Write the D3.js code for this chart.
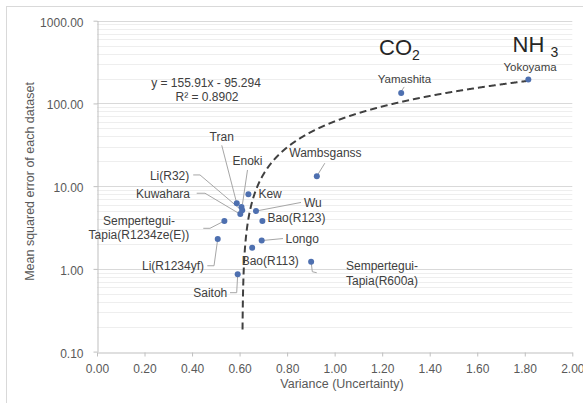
<!DOCTYPE html>
<html>
<head>
<meta charset="utf-8">
<script src="https://cdn.jsdelivr.net/npm/d3@7"></script>
<style>
  html, body { margin: 0; padding: 0; background: #fff; }
  svg { display: block; font-family: "Liberation Sans", Arial, sans-serif; }
</style>
</head>
<body>
<svg id="chart" width="583" height="403"></svg>
<script>
// Datasets: variance (uncertainty) vs. mean squared error
const names = [
  "Yokoyama", "Yamashita", "Wambsganss", "Kew", "Tran", "Enoki", "Li(R32)", "Kuwahara",
  "Wu", "Bao(R123)", "Sempertegui-Tapia(R1234ze(E))", "Li(R1234yf)", "Longo",
  "Bao(R113)", "Saitoh", "Sempertegui-Tapia(R600a)"
];
const variance = [1.815, 1.28, 0.925, 0.637, 0.588, 0.608, 0.611, 0.603,
                  0.669, 0.696, 0.536, 0.508, 0.693, 0.653, 0.592, 0.901];
const mse = [195, 134, 13.2, 8.0, 6.2, 5.6, 5.1, 4.6,
             5.0, 3.8, 3.8, 2.3, 2.2, 1.8, 0.86, 1.22];

// Linear trendline fitted to the datasets
const trendSlope = 155.91;
const trendIntercept = -95.294;
const rSquared = 0.8902;

// Axis ticks
const xTicks = [0, 0.2, 0.4, 0.6, 0.8, 1.0, 1.2, 1.4, 1.6, 1.8, 2.0];
const yTicks = [0.1, 1, 10, 100, 1000];

// Label placement (pixel offsets from each point; leader polyline offsets)
const labelLayout = {
  "Yokoyama":   { lines: ["Yokoyama"], anchor: "middle", dx: 1.7, dy: -8.7, size: 11.5 },
  "Yamashita":  { lines: ["Yamashita"], anchor: "middle", dx: 3.3, dy: -10.2, size: 11.5, leader: [[1, -3], [3, -6]] },
  "Wambsganss": { lines: ["Wambsganss"], anchor: "start", dx: -27.5, dy: -18.9, leader: [[0, 0], [8, -13]] },
  "Kew":        { lines: ["Kew"], anchor: "start", dx: 10, dy: 4 },
  "Tran":       { lines: ["Tran"], anchor: "middle", dx: -15, dy: -62.6, leader: [[-15, -58], [0, 0]] },
  "Enoki":      { lines: ["Enoki"], anchor: "middle", dx: 6, dy: -42, leader: [[6, -37], [1, -3]] },
  "Li(R32)":    { lines: ["Li(R32)"], anchor: "end", dx: -52.9, dy: -30.4, leader: [[-49, -35.4], [-42.2, -35.4], [-3, -2]] },
  "Kuwahara":   { lines: ["Kuwahara"], anchor: "end", dx: -50.3, dy: -15.8, leader: [[-43.6, -20.8], [-35.3, -20.8], [-2, -1]] },
  "Wu":         { lines: ["Wu"], anchor: "start", dx: 48, dy: -4.4, leader: [[0, 0], [45, -8.6]] },
  "Bao(R123)":  { lines: ["Bao(R123)"], anchor: "start", dx: 5, dy: 1 },
  "Sempertegui-Tapia(R1234ze(E))": { lines: ["Sempertegui-", "Tapia(R1234ze(E))"], anchor: "middle", dx: -85.4, dy: 3.6,
                  leader: [[-21.1, 7.4], [-14.4, 7.4], [0, 0]] },
  "Li(R1234yf)": { lines: ["Li(R1234yf)"], anchor: "end", dx: -13.7, dy: 31, leader: [[-10.4, 26.8], [-3.7, 26.8], [0, 0]] },
  "Longo":      { lines: ["Longo"], anchor: "start", dx: 23.8, dy: 2.5, leader: [[0, 0], [21.3, -2]] },
  "Bao(R113)":  { lines: ["Bao(R113)"], anchor: "start", dx: -10.5, dy: 17.3 },
  "Saitoh":     { lines: ["Saitoh"], anchor: "end", dx: -10.4, dy: 22.4, leader: [[-7.7, 18.4], [-1, 18.4], [0, 0]] },
  "Sempertegui-Tapia(R600a)": { lines: ["Sempertegui-", "Tapia(R600a)"], anchor: "middle", dx: 70.9, dy: 8.3,
                  leader: [[0, 0], [1.2, 10], [5.6, 11]] }
};

const svg = d3.select("#chart");
const plot = { left: 97, right: 572.3, top: 20.7, bottom: 351.6 };

const x = d3.scaleLinear().domain([0, 2]).range([plot.left, plot.right]);
const y = d3.scaleLog().domain([0.1, 1000]).range([plot.bottom, plot.top]);

// Chart area outline
svg.append("rect")
  .attr("x", 6.5).attr("y", 6.5)
  .attr("width", 600).attr("height", 420)
  .attr("fill", "#fff").attr("stroke", "#d9d9d9").attr("stroke-width", 1);

// Minor and major horizontal gridlines
const minorVals = [];
for (let e = -1; e < 3; e++) {
  for (let m = 2; m <= 9; m++) minorVals.push(m * Math.pow(10, e));
}
svg.append("g").selectAll("line").data(minorVals).join("line")
  .attr("x1", plot.left).attr("x2", plot.right)
  .attr("y1", d => Math.round(y(d)) + 0.5).attr("y2", d => Math.round(y(d)) + 0.5)
  .attr("stroke", "#eeeeee").attr("stroke-width", 1);
svg.append("g").selectAll("line").data(yTicks.slice(1)).join("line")
  .attr("x1", plot.left).attr("x2", plot.right)
  .attr("y1", d => Math.round(y(d)) + 0.5).attr("y2", d => Math.round(y(d)) + 0.5)
  .attr("stroke", "#d9d9d9").attr("stroke-width", 1);

// Axes
const fmt = d3.format(".2f");
const xAxis = svg.append("g")
  .attr("transform", `translate(0,${Math.round(plot.bottom) + 0.5})`)
  .call(d3.axisBottom(x).tickValues(xTicks).tickFormat(fmt).tickSize(4).tickSizeOuter(0).tickPadding(8));
const yAxis = svg.append("g")
  .attr("transform", `translate(${Math.round(plot.left) + 0.5},0)`)
  .call(d3.axisLeft(y).tickValues(yTicks).tickFormat(fmt).tickSize(4).tickSizeOuter(0).tickPadding(10));
[xAxis, yAxis].forEach(g => {
  g.select(".domain").attr("stroke", "#bfbfbf");
  g.selectAll(".tick line").attr("stroke", "#bfbfbf");
  g.selectAll(".tick text").attr("fill", "#595959").style("font-size", "12px")
    .style("font-family", "'Liberation Sans', Arial, sans-serif");
});
yAxis.selectAll(".tick text").attr("dy", "0.45em");

// Axis titles
svg.append("text")
  .attr("x", 342).attr("y", 388)
  .attr("text-anchor", "middle")
  .attr("fill", "#595959").style("font-size", "12.5px")
  .text("Variance (Uncertainty)");
svg.append("text")
  .attr("transform", "translate(33.5,181.5) rotate(-90)")
  .attr("text-anchor", "middle")
  .attr("fill", "#595959").style("font-size", "12.5px")
  .text("Mean squared error of each dataset");

// Trendline over the data range (only where the fitted value is positive on the log axis)
const xMin = d3.min(variance), xMax = d3.max(variance);
const trendPts = d3.range(xMin, xMax + 1e-9, 0.0002)
  .concat([xMax])
  .map(v => [v, trendSlope * v + trendIntercept])
  .filter(p => p[1] >= 0.17);
svg.append("path")
  .datum(trendPts)
  .attr("fill", "none")
  .attr("stroke", "#404040")
  .attr("stroke-width", 2)
  .attr("stroke-dasharray", "7,4")
  .attr("d", d3.line().x(p => x(p[0])).y(p => y(p[1])));

// Trendline equation
const eq = svg.append("text").attr("fill", "#404040").style("font-size", "12px").attr("text-anchor", "middle");
eq.append("tspan").attr("x", 206).attr("y", 87.3)
  .text(`y = ${trendSlope}x - ${Math.abs(trendIntercept)}`);
eq.append("tspan").attr("x", 207).attr("y", 100.7)
  .text(`R² = ${rSquared}`);

// Points
const pts = names.map((n, i) => ({ name: n, px: x(variance[i]), py: y(mse[i]) }));

// Leader lines
svg.append("g").selectAll("polyline")
  .data(pts.filter(p => labelLayout[p.name].leader))
  .join("polyline")
  .attr("fill", "none").attr("stroke", "#a6a6a6").attr("stroke-width", 1)
  .attr("points", p => labelLayout[p.name].leader.map(o => `${p.px + o[0]},${p.py + o[1]}`).join(" "));

svg.append("g").selectAll("circle").data(pts).join("circle")
  .attr("cx", p => p.px).attr("cy", p => p.py).attr("r", 3)
  .attr("fill", "#4e70b0");

// Data labels
const lbl = svg.append("g").selectAll("text").data(pts).join("text")
  .attr("text-anchor", p => labelLayout[p.name].anchor)
  .attr("fill", "#404040")
  .style("font-size", p => (labelLayout[p.name].size || 12) + "px");
lbl.each(function (p) {
  const L = labelLayout[p.name];
  const t = d3.select(this);
  L.lines.forEach((s, k) => {
    t.append("tspan").attr("x", p.px + L.dx).attr("y", p.py + L.dy + k * 14.5).text(s);
  });
});

// Refrigerant annotations
const co2 = svg.append("text").attr("x", 379).attr("y", 55).attr("fill", "#262626").style("font-size", "22px");
co2.append("tspan").text("CO");
co2.append("tspan").attr("dy", 5).style("font-size", "14px").text("2");
const nh3 = svg.append("text").attr("x", 512.5).attr("y", 51.7).attr("fill", "#262626").style("font-size", "22px");
nh3.append("tspan").text("NH ");
nh3.append("tspan").attr("dy", 5.6).style("font-size", "14px").text("3");
</script>
</body>
</html>
